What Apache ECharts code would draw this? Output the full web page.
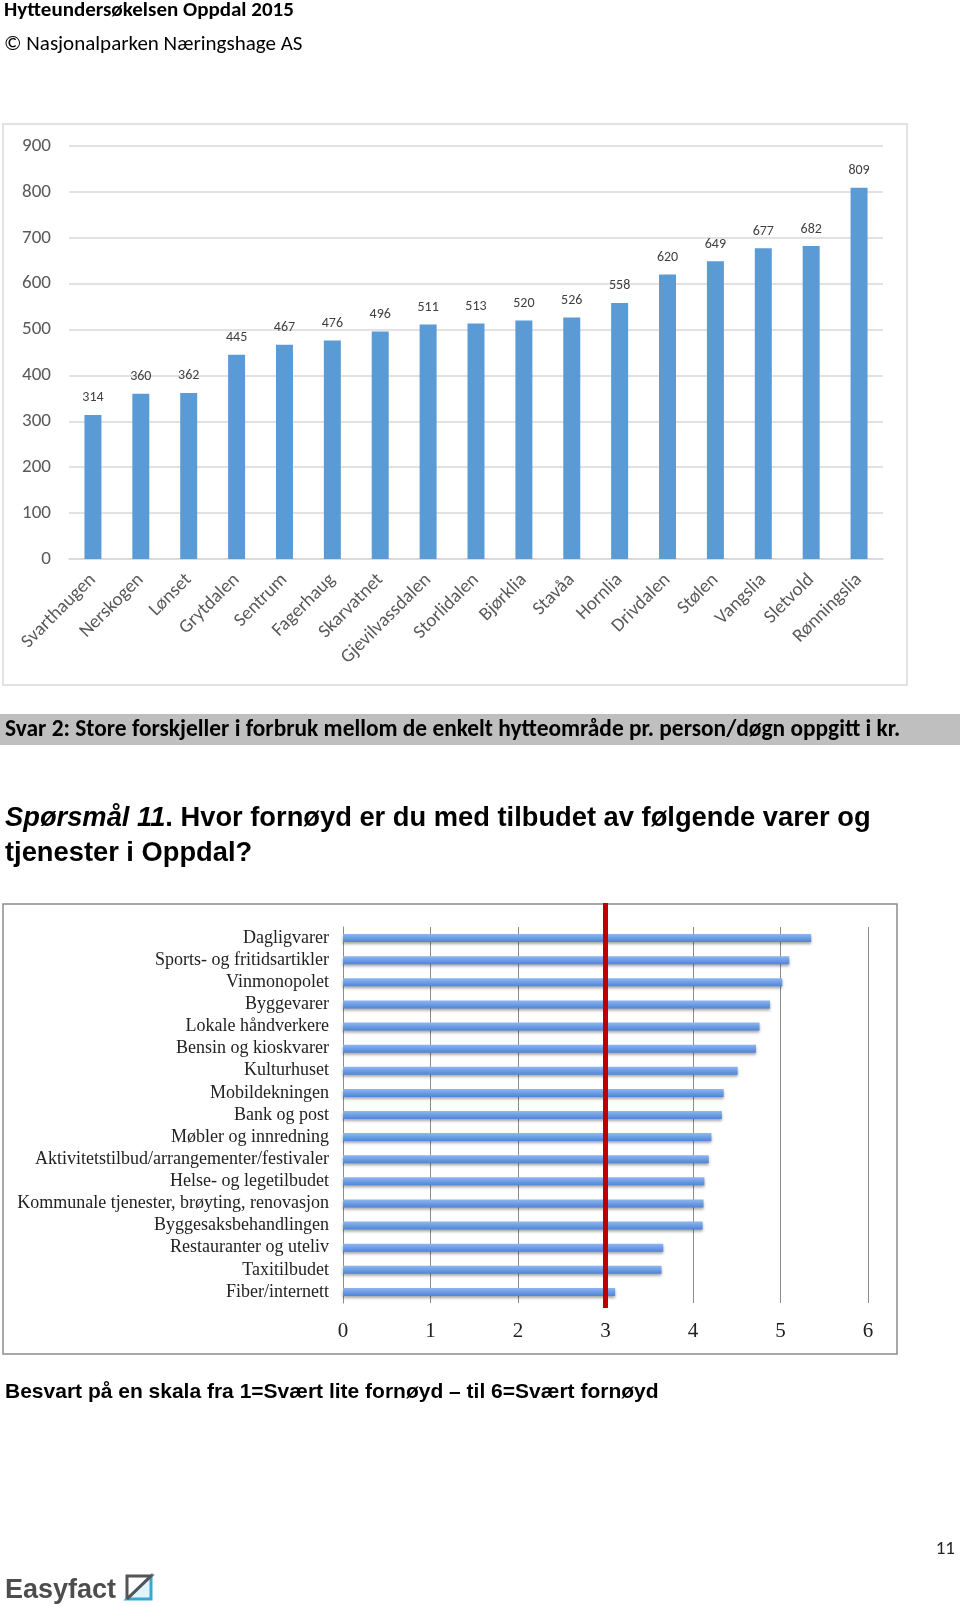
<!DOCTYPE html>
<html>
<head>
<meta charset="utf-8">
<title>Hytteundersøkelsen Oppdal 2015</title>
<script src="https://cdn.jsdelivr.net/npm/echarts/dist/echarts.min.js"></script>
<style>
  html, body { margin: 0; padding: 0; background: #fff; }
  #page { width: 960px; height: 1606px; }
</style>
</head>
<body>
<div id="page"></div>
<script>
// forbruk pr. person/døgn (kr) per hytteområde
var omrader = ['Svarthaugen', 'Nerskogen', 'Lønset', 'Grytdalen', 'Sentrum', 'Fagerhaug', 'Skarvatnet',
  'Gjevilvassdalen', 'Storlidalen', 'Bjørklia', 'Stavåa', 'Hornlia', 'Drivdalen', 'Stølen', 'Vangslia',
  'Sletvold', 'Rønningslia']
var forbruk = [314, 360, 362, 445, 467, 476, 496, 511, 513, 520, 526, 558, 620, 649, 677, 682, 809]

// spørsmål 11, snitt på skala 1-6
var tilbud = ['Dagligvarer', 'Sports- og fritidsartikler', 'Vinmonopolet', 'Byggevarer', 'Lokale håndverkere',
  'Bensin og kioskvarer', 'Kulturhuset', 'Mobildekningen', 'Bank og post', 'Møbler og innredning',
  'Aktivitetstilbud/arrangementer/festivaler', 'Helse- og legetilbudet',
  'Kommunale tjenester, brøyting, renovasjon', 'Byggesaksbehandlingen', 'Restauranter og uteliv',
  'Taxitilbudet', 'Fiber/internett']
var fornoyd = [5.35, 5.10, 5.02, 4.88, 4.76, 4.72, 4.51, 4.35, 4.33, 4.21, 4.18, 4.13, 4.12, 4.11, 3.66, 3.64, 3.11]
var middel = 3 // rød strek

var calibri = 'Carlito, Lato, "Open Sans", sans-serif'
var arial = '"Liberation Sans", Arial, sans-serif'
var serif = '"Liberation Serif", "DejaVu Serif", serif'

var chart = echarts.init(document.getElementById('page'))
var option = {
  backgroundColor: '#fff',
  animation: false,
  grid: [
    { left: 69, top: 146, width: 814, height: 413 },
    { left: 343, top: 927, width: 525, height: 376 },
    { left: 343, top: 903, width: 525, height: 405 }
  ],
  xAxis: [
    {
      gridIndex: 0,
      type: 'category',
      data: omrader,
      axisLine: { lineStyle: { color: '#d9d9d9', width: 1.5 } },
      axisTick: { show: false },
      axisLabel: { rotate: 45, margin: 18, fontSize: 19, color: '#595959', fontFamily: calibri, interval: 0 }
    },
    {
      gridIndex: 1,
      type: 'value',
      min: 0,
      max: 6,
      interval: 1,
      axisLine: { show: false },
      axisTick: { show: false },
      splitLine: { lineStyle: { color: '#8c8c8c', width: 1 } },
      axisLabel: { margin: 18, fontSize: 21, color: '#222', fontFamily: serif }
    },
    { gridIndex: 2, type: 'value', min: 0, max: 6, show: false }
  ],
  yAxis: [
    {
      gridIndex: 0,
      type: 'value',
      min: 0,
      max: 900,
      interval: 100,
      axisLine: { show: false },
      axisTick: { show: false },
      splitLine: { lineStyle: { color: '#d9d9d9', width: 1.5 } },
      axisLabel: { margin: 18, fontSize: 19, color: '#595959', fontFamily: calibri }
    },
    {
      gridIndex: 1,
      type: 'category',
      data: tilbud,
      inverse: true,
      axisLine: { lineStyle: { color: '#8c8c8c', width: 1 } },
      axisTick: { length: 5, lineStyle: { color: '#8c8c8c' } },
      axisLabel: { margin: 14, fontSize: 18, color: '#222', fontFamily: serif, interval: 0 }
    },
    { gridIndex: 2, type: 'value', min: 0, max: 1, show: false }
  ],
  series: [
    {
      type: 'bar',
      xAxisIndex: 0,
      yAxisIndex: 0,
      data: forbruk,
      barWidth: 17,
      itemStyle: { color: '#5b9bd5' },
      label: { show: true, position: 'top', distance: 10, fontSize: 14, color: '#404040', fontFamily: calibri }
    },
    {
      type: 'bar',
      xAxisIndex: 1,
      yAxisIndex: 1,
      data: fornoyd,
      barWidth: 8,
      itemStyle: {
        color: new echarts.graphic.LinearGradient(0, 0, 0, 1, [
          { offset: 0, color: '#8fb6f0' },
          { offset: 1, color: '#4f84d8' }
        ]),
        shadowColor: 'rgba(0,0,0,0.35)',
        shadowBlur: 3,
        shadowOffsetY: 2
      }
    },
    {
      type: 'line',
      xAxisIndex: 2,
      yAxisIndex: 2,
      data: [[middel, 0], [middel, 1]],
      symbol: 'none',
      lineStyle: { color: '#c00000', width: 5 },
      z: 5
    }
  ],
  graphic: [
    { type: 'text', x: 4, y: 11, style: { text: 'Hytteundersøkelsen Oppdal 2015', font: 'bold 21px ' + calibri, fill: '#000', verticalAlign: 'middle' } },
    { type: 'text', x: 4, y: 45, style: { text: '© Nasjonalparken Næringshage AS', font: '21px ' + calibri, fill: '#000', verticalAlign: 'middle' } },
    { type: 'rect', shape: { x: 3, y: 124, width: 904, height: 561 }, style: { fill: 'none', stroke: '#d9d9d9', lineWidth: 1.5 } },
    { type: 'rect', shape: { x: 0, y: 714, width: 960, height: 31 }, style: { fill: '#bfbfbf' } },
    { type: 'text', x: 5, y: 730, style: { text: 'Svar 2: Store forskjeller i forbruk mellom de enkelt hytteområde pr. person/døgn oppgitt i kr.', font: 'bold 23.4px ' + calibri, fill: '#000', verticalAlign: 'middle' } },
    {
      type: 'text', x: 5, y: 818,
      style: {
        text: '{i|Spørsmål 11}{b|. Hvor fornøyd er du med tilbudet av følgende varer og}',
        verticalAlign: 'middle',
        rich: {
          i: { font: 'italic bold 27.3px ' + arial, fill: '#000' },
          b: { font: 'bold 27.3px ' + arial, fill: '#000' }
        }
      }
    },
    { type: 'text', x: 5, y: 853, style: { text: 'tjenester i Oppdal?', font: 'bold 27.3px ' + arial, fill: '#000', verticalAlign: 'middle' } },
    { type: 'rect', shape: { x: 3, y: 904, width: 894, height: 450 }, style: { fill: 'none', stroke: '#8c8c8c', lineWidth: 1.5 } },
    { type: 'text', x: 5, y: 1392, style: { text: 'Besvart på en skala fra 1=Svært lite fornøyd – til 6=Svært fornøyd', font: 'bold 21px ' + arial, fill: '#000', verticalAlign: 'middle' } },
    { type: 'text', x: 955, y: 1549, style: { text: '11', font: '19px ' + calibri, fill: '#222', align: 'right', verticalAlign: 'middle' } },
    { type: 'text', x: 5, y: 1591, style: { text: 'Easyfact', font: 'bold 27px ' + arial, fill: '#4d4d4d', verticalAlign: 'middle' } },
    { type: 'polygon', shape: { points: [[127, 1599], [151, 1576], [151, 1599]] }, style: { fill: '#e3f3fa', stroke: '#3aa6d6', lineWidth: 3 } },
    { type: 'polyline', shape: { points: [[127, 1599], [127, 1576], [151, 1576], [127, 1599]] }, style: { fill: 'none', stroke: '#555', lineWidth: 3 } }
  ]
}
chart.setOption(option)
</script>
</body>
</html>
